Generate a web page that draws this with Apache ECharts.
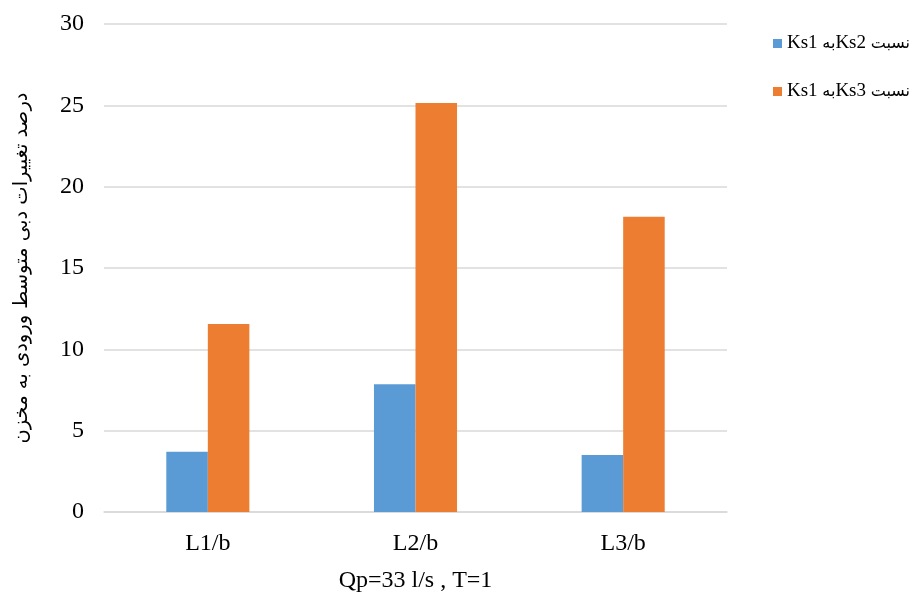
<!DOCTYPE html>
<html>
<head>
<meta charset="utf-8">
<script src="https://cdn.jsdelivr.net/npm/echarts@6/dist/echarts.min.js"></script>
<style>
html,body{margin:0;padding:0;background:#fff;}
#chart{width:919px;height:594px;}
</style>
</head>
<body>
<div id="chart"></div>
<script>
const categories = ['L1/b', 'L2/b', 'L3/b'];
const seriesNames = ['نسبت Ks2به Ks1', 'نسبت Ks3به Ks1'];
const ks2Values = [3.7, 7.85, 3.5];
const ks3Values = [11.55, 25.15, 18.15];
const yTicks = [0, 5, 10, 15, 20, 25, 30];
const xTitle = 'Qp=33 l/s , T=1';
const yTitle = 'درصد تغییرات دبی متوسط ورودی به مخزن';

const rtl = s => '\u202B' + s + '\u202C';
const FONT = '"Liberation Serif", "Times New Roman", "DejaVu Serif", "DejaVu Sans", serif';
const AR_FONT = '"DejaVu Sans", sans-serif';

// Lay out a mixed RTL label as visual runs (right-to-left paragraph order)
function rtlRich(s) {
  const runs = s.match(/[\u0600-\u06FF]+|\s+|[^\u0600-\u06FF\s]+/g) || [];
  return runs.reverse().map(r => {
    if (/[\u0600-\u06FF]/.test(r)) return '{a|' + r + '}';
    if (/^\s+$/.test(r)) return '{l|\u00A0}';
    return '{l|' + r + '}';
  }).join('');
}

const chart = echarts.init(document.getElementById('chart'), null, {renderer: 'canvas'});
chart.setOption({
  animation: false,
  backgroundColor: '#ffffff',
  textStyle: {fontFamily: FONT, color: '#000'},
  grid: {left: 104, right: 192, top: 24, bottom: 82, containLabel: false, outerBoundsMode: 'none'},
  legend: {
    orient: 'vertical',
    left: 768,
    top: 29,
    itemWidth: 9,
    itemHeight: 9,
    itemGap: 29,
    icon: 'rect',
    textStyle: {
      fontFamily: FONT, fontSize: 19, color: '#000',
      rich: {
        l: {fontFamily: FONT, fontSize: 19, color: '#000'},
        a: {fontFamily: AR_FONT, fontSize: 16, color: '#000'}
      }
    },
    formatter: n => rtlRich(n),
    data: seriesNames
  },
  xAxis: {
    type: 'category',
    data: categories,
    name: xTitle,
    nameLocation: 'middle',
    nameGap: 57,
    nameTextStyle: {fontFamily: FONT, fontSize: 24, color: '#000'},
    axisLine: {show: true, lineStyle: {color: '#d9d9d9', width: 1.5}},
    axisTick: {show: false},
    axisLabel: {fontFamily: FONT, fontSize: 24, color: '#000', margin: 20}
  },
  yAxis: {
    type: 'value',
    min: yTicks[0],
    max: yTicks[yTicks.length - 1],
    interval: yTicks[1] - yTicks[0],
    name: rtl(yTitle),
    nameLocation: 'middle',
    nameGap: 72,
    nameTextStyle: {fontFamily: AR_FONT, fontSize: 19.5, color: '#000'},
    axisLine: {show: false},
    axisTick: {show: false},
    axisLabel: {fontFamily: FONT, fontSize: 24, color: '#000', margin: 20},
    splitLine: {lineStyle: {color: '#d9d9d9', width: 1.5}}
  },
  series: [
    {
      name: seriesNames[0],
      type: 'bar',
      data: ks2Values,
      barGap: '0%',
      barCategoryGap: '60%',
      itemStyle: {color: '#5B9BD5'}
    },
    {
      name: seriesNames[1],
      type: 'bar',
      data: ks3Values,
      barGap: '0%',
      barCategoryGap: '60%',
      itemStyle: {color: '#ED7D31'}
    }
  ]
});
</script>
</body>
</html>
